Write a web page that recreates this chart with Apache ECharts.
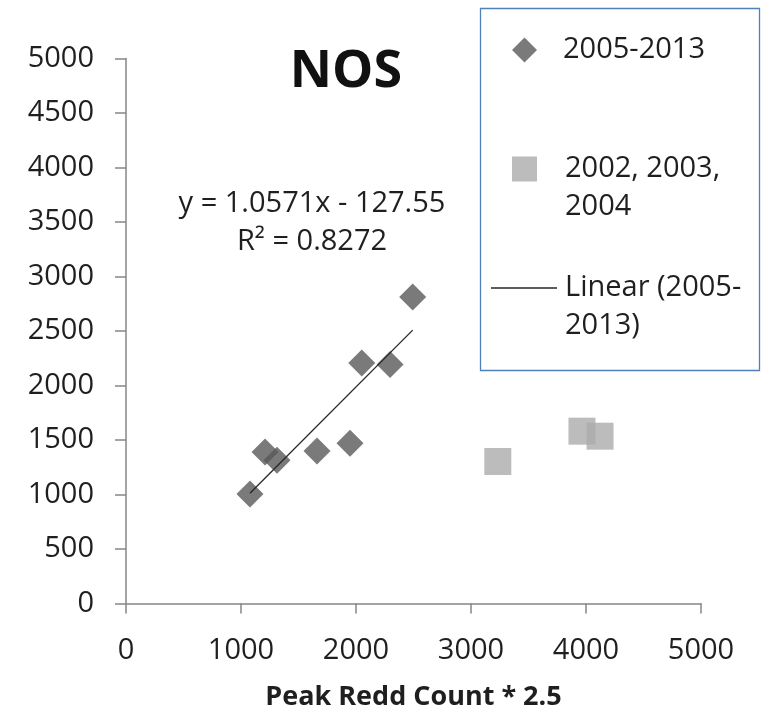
<!DOCTYPE html>
<html>
<head>
<meta charset="utf-8">
<script src="https://cdn.jsdelivr.net/npm/echarts@6/dist/echarts.min.js"></script>
<style>
  html, body { margin: 0; padding: 0; background: #ffffff; }
  #chart { width: 761px; height: 720px; }
</style>
</head>
<body>
<div id="chart"></div>
<script>
// ---- data ----
const seriesRecentName = '2005-2013';
const recentX = [1078, 1209, 1313, 1661, 1948, 2050, 2296, 2493];
const recentY = [1004, 1389, 1315, 1398, 1471, 2207, 2192, 2812];

const seriesEarlyName = '2002, 2003, 2004';
const earlyX = [3233, 3965, 4122];
const earlyY = [1303, 1581, 1535];

const trendName = 'Linear (2005-2013)';
const trendSlope = 1.0571;
const trendIntercept = -127.55;
const trendR2 = 0.8272;

const xTicks = [0, 1000, 2000, 3000, 4000, 5000];
const yTicks = [0, 500, 1000, 1500, 2000, 2500, 3000, 3500, 4000, 4500, 5000];

const chartTitle = 'NOS';
const xAxisTitle = 'Peak Redd Count * 2.5';

// ---- build ----
const recentData = recentX.map((x, i) => [x, recentY[i]]);
const earlyData = earlyX.map((x, i) => [x, earlyY[i]]);
const tMin = Math.min.apply(null, recentX);
const tMax = Math.max.apply(null, recentX);
const trendData = [tMin, tMax].map(x => [x, trendSlope * x + trendIntercept]);

const FONT = '"Open Sans", "Liberation Sans", sans-serif';
const TXT = '#1f1f1f';
const AX = '#868686';
const LH = 38;

const chart = echarts.init(document.getElementById('chart'), null, { renderer: 'canvas' });

const legendText = (padLeft) => ({
  fontFamily: FONT, fontSize: 29, color: TXT, lineHeight: LH,
  padding: [0, 0, 0, padLeft]
});

chart.setOption({
  backgroundColor: '#ffffff',
  animation: false,
  grid: { left: 126, right: 60, top: 58.5, bottom: 116.5, containLabel: false, outerBoundsMode: 'none' },
  xAxis: {
    type: 'value', min: xTicks[0], max: xTicks[xTicks.length - 1], interval: 1000,
    name: xAxisTitle, nameLocation: 'middle', nameGap: 94,
    nameTextStyle: { fontFamily: FONT, fontSize: 27, fontWeight: 'bold', color: TXT, verticalAlign: 'middle' },
    axisLine: { show: true, onZero: false, lineStyle: { color: AX, width: 1.5 } },
    axisTick: { show: true, inside: false, length: 10, lineStyle: { color: AX, width: 1.5 } },
    splitLine: { show: false },
    axisLabel: { fontFamily: FONT, fontSize: 29, color: TXT, margin: 33, formatter: v => String(v) }
  },
  yAxis: {
    type: 'value', min: yTicks[0], max: yTicks[yTicks.length - 1], interval: 500,
    axisLine: { show: true, onZero: false, lineStyle: { color: AX, width: 1.5 } },
    axisTick: { show: true, inside: false, length: 11, lineStyle: { color: AX, width: 1.5 } },
    splitLine: { show: false },
    axisLabel: { fontFamily: FONT, fontSize: 29, color: TXT, margin: 32, formatter: v => String(v) }
  },
  legend: [
    {
      data: [seriesRecentName], orient: 'vertical', left: 512, top: 31, padding: 0,
      itemWidth: 25, itemHeight: 25, icon: 'diamond',
      textStyle: legendText(21)
    },
    {
      data: [seriesEarlyName], orient: 'vertical', left: 512, top: 112, padding: 0,
      itemWidth: 25, itemHeight: 25, icon: 'rect',
      formatter: () => '\n2002, 2003,\n2004',
      textStyle: legendText(23)
    },
    {
      data: [trendName], orient: 'vertical', left: 491, top: 231, padding: 0,
      itemWidth: 66, itemHeight: 1.5, icon: 'rect',
      formatter: () => '\nLinear (2005-\n2013)',
      textStyle: legendText(3)
    }
  ],
  graphic: [
    {
      type: 'rect', left: 478, top: 6, silent: true,
      shape: { width: 279, height: 362 },
      style: { fill: 'none', stroke: '#4f81bd', lineWidth: 1.3 }
    },
    {
      type: 'text', x: 346, y: 72, silent: true,
      style: { text: chartTitle, font: 'bold 52px ' + FONT, fill: '#111', textAlign: 'center', textVerticalAlign: 'middle' }
    },
    {
      type: 'text', x: 312, y: 204, silent: true,
      style: { text: 'y = ' + trendSlope + 'x - ' + (-trendIntercept), font: '29px ' + FONT, fill: TXT, textAlign: 'center', textVerticalAlign: 'middle' }
    },
    {
      type: 'text', x: 312, y: 242, silent: true,
      style: { text: 'R\u00B2 = ' + trendR2, font: '29px ' + FONT, fill: TXT, textAlign: 'center', textVerticalAlign: 'middle' }
    }
  ],
  series: [
    {
      name: seriesRecentName, type: 'scatter', data: recentData,
      symbol: 'diamond', symbolSize: 27,
      itemStyle: { color: '#595959' }, z: 3
    },
    {
      name: seriesEarlyName, type: 'scatter', data: earlyData,
      symbol: 'rect', symbolSize: 27,
      itemStyle: { color: '#ababab' }, z: 3
    },
    {
      name: trendName, type: 'line', data: trendData,
      symbol: 'none', showSymbol: false,
      lineStyle: { color: '#262626', width: 1.3 },
      itemStyle: { color: '#262626' }, z: 4
    }
  ]
});
</script>
</body>
</html>
